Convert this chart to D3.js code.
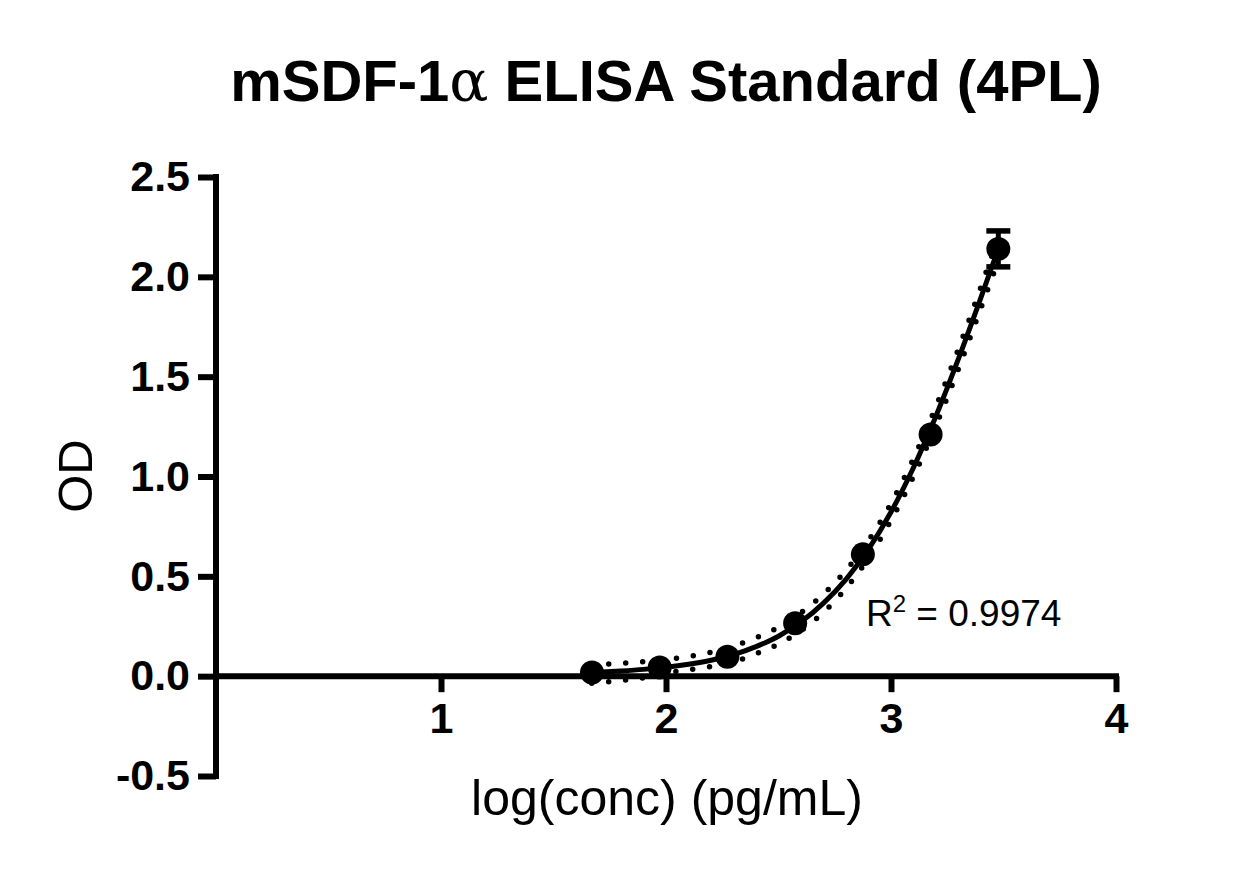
<!DOCTYPE html>
<html>
<head>
<meta charset="utf-8">
<script src="https://cdn.jsdelivr.net/npm/d3@7"></script>
<style>
  body{margin:0;background:#fff;}
  svg{display:block;}
  text{font-family:"Liberation Sans",Arial,sans-serif;fill:#000;}
</style>
</head>
<body>
<svg id="chart" width="1254" height="870"></svg>
<script>
// standards: log10(conc) and mean OD
var logConc=[1.671,1.972,2.273,2.574,2.875,3.176,3.477];
var odMean=[0.018,0.043,0.097,0.265,0.61,1.21,2.14];
var odErr=[0,0,0,0,0,0,0.09];

// 4PL fit curve and its confidence band
var fitX=[1.67,1.8,1.9,2.0,2.1,2.2,2.3,2.4,2.5,2.6,2.7,2.8,2.9,3.0,3.1,3.2,3.3,3.4,3.48];
var fitY=[0.018,0.026,0.034,0.045,0.06,0.08,0.108,0.148,0.2,0.272,0.366,0.485,0.636,0.822,1.045,1.303,1.59,1.897,2.15];
var bandHigh=[0.058,0.064,0.072,0.083,0.098,0.12,0.15,0.192,0.245,0.318,0.412,0.53,0.68,0.865,1.09,1.35,1.64,1.95,2.21];
var bandLow=[-0.035,-0.022,-0.008,0.015,0.032,0.048,0.072,0.112,0.16,0.228,0.32,0.44,0.592,0.78,1.0,1.256,1.54,1.845,2.09];

var xTicks=[1,2,3,4];
var yTicks=[-0.5,0,0.5,1,1.5,2,2.5];

var svg=d3.select("#chart");
var x=d3.scaleLinear().domain([0,4]).range([216,1116]);
var y=d3.scaleLinear().domain([-0.5,2.5]).range([776,177]);

//title
var title=svg.append("text")
  .attr("x",666).attr("y",101)
  .attr("text-anchor","middle")
  .style("font-size","58px").style("font-weight","bold");
title.append("tspan").text("mSDF-1");
title.append("tspan").text("\u03B1").style("font-family","'DejaVu Serif','Liberation Serif',serif").style("font-weight","normal");
title.append("tspan").text(" ELISA Standard (4PL)");

//y axis
var yAxis=d3.axisLeft(y).tickValues(yTicks)
  .tickFormat(function(d){return d3.format(".1f")(d).replace("\u2212","-");})
  .tickSize(18).tickPadding(8);
var gy=svg.append("g").attr("transform","translate(216,0)").call(yAxis);
gy.select(".domain").attr("d","M0,"+(y(2.5)-3)+"V"+(y(-0.5)+3)).attr("stroke-width",6);
gy.selectAll(".tick line").attr("stroke-width",6);
gy.selectAll(".tick text").style("font-size","43px").style("font-weight","bold").style("font-family","'Liberation Sans',Arial,sans-serif").attr("fill","#000");

//x axis along y=0
var xAxis=d3.axisBottom(x).tickValues(xTicks).tickFormat(d3.format("d")).tickSize(16).tickPadding(10);
var gx=svg.append("g").attr("transform","translate(0,"+y(0)+")").call(xAxis);
gx.select(".domain").attr("d","M"+x(0)+",0H"+(x(4)+3)).attr("stroke-width",6);
gx.selectAll(".tick line").attr("stroke-width",6);
gx.selectAll(".tick text").style("font-size","43px").style("font-weight","bold").style("font-family","'Liberation Sans',Arial,sans-serif").attr("fill","#000");

//axis titles
svg.append("text").attr("x",667).attr("y",815).attr("text-anchor","middle")
  .style("font-size","50px").text("log(conc) (pg/mL)");
svg.append("text").attr("transform","translate(92,476) rotate(-90)").attr("text-anchor","middle")
  .style("font-size","49px").text("OD");

//confidence band (dotted)
function bandLine(vals){
  return d3.line().x(function(d,i){return x(fitX[i]);}).y(function(d){return y(d);}).curve(d3.curveMonotoneX)(vals);
}
[bandHigh,bandLow].forEach(function(b){
  svg.append("path").attr("d",bandLine(b))
    .attr("fill","none").attr("stroke","#000").attr("stroke-width",5.5)
    .attr("stroke-linecap","round").attr("stroke-dasharray","0,17");
});

//fit curve
svg.append("path").attr("d",bandLine(fitY))
  .attr("fill","none").attr("stroke","#000").attr("stroke-width",5);

//error bars
logConc.forEach(function(lc,i){
  if(!odErr[i]) return;
  var cx=x(lc);
  svg.append("line").attr("x1",cx).attr("x2",cx).attr("y1",y(odMean[i]+odErr[i])).attr("y2",y(odMean[i]-odErr[i])).attr("stroke","#000").attr("stroke-width",5);
  [odMean[i]+odErr[i],odMean[i]-odErr[i]].forEach(function(v){
    svg.append("line").attr("x1",cx-12).attr("x2",cx+12).attr("y1",y(v)).attr("y2",y(v)).attr("stroke","#000").attr("stroke-width",5.5);
  });
});

//points
svg.selectAll(".pt").data(logConc).enter().append("circle")
  .attr("class","pt")
  .attr("cx",function(d){return x(d);})
  .attr("cy",function(d,i){return y(odMean[i]);})
  .attr("r",12).attr("fill","#000");

//R squared
var r2=svg.append("text").attr("x",866).attr("y",626).style("font-size","37px");
r2.append("tspan").text("R");
r2.append("tspan").text("2").attr("dy",-14).style("font-size","24px");
r2.append("tspan").text(" = 0.9974").attr("dy",14);
</script>
</body>
</html>
